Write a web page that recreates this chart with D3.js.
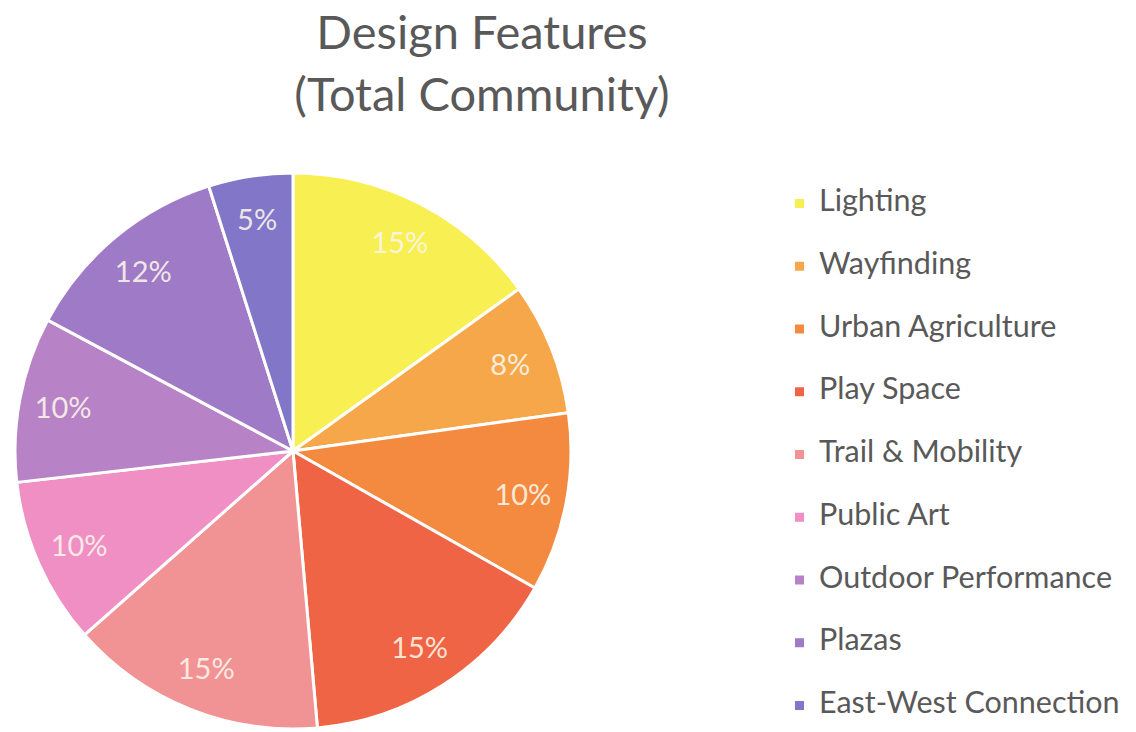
<!DOCTYPE html>
<html>
<head>
<meta charset="utf-8">
<script src="https://cdn.jsdelivr.net/npm/d3@7"></script>
<style>
  html, body { margin: 0; padding: 0; background: #ffffff; }
  svg { display: block; }
</style>
</head>
<body>
<svg id="chart" width="1136" height="732"></svg>
<script>
// Share of design features requested across the total community (percent)
const categories = [
  "Lighting", "Wayfinding", "Urban Agriculture", "Play Space",
  "Trail & Mobility", "Public Art", "Outdoor Performance", "Plazas",
  "East-West Connection"
];
const shares = [15.1, 7.7, 10.4, 15.4, 14.9, 9.7, 9.6, 12.3, 4.9];
const colors = [
  "#f8ef52", "#f6a74a", "#f38a3f", "#ef6445",
  "#f19295", "#ef8fc3", "#b783c6", "#9f7ac6", "#8176c8"
];
const titleLines = ["Design Features", "(Total Community)"];

const svg = d3.select("#chart");
const cx = 293, cy = 451, radius = 278;
const labelRadius = 234;
const font = "Lato, 'Open Sans', sans-serif";

// Title
svg.append("g")
  .selectAll("text")
  .data(titleLines)
  .join("text")
  .attr("x", 482)
  .attr("y", (d, i) => 49 + i * 62)
  .attr("text-anchor", "middle")
  .attr("font-family", font)
  .attr("font-size", 47)
  .attr("fill", "#595959")
  .text(d => d);

// Pie
const rows = categories.map((c, i) => ({ name: c, value: shares[i], color: colors[i] }));
const pie = d3.pie().sort(null).value(d => d.value);
const arcs = pie(rows);
const arc = d3.arc().innerRadius(0).outerRadius(radius);
const labelArc = d3.arc().innerRadius(labelRadius).outerRadius(labelRadius);

const g = svg.append("g").attr("transform", `translate(${cx},${cy})`);

g.selectAll("path")
  .data(arcs)
  .join("path")
  .attr("d", arc)
  .attr("fill", d => d.data.color)
  .attr("stroke", "#ffffff")
  .attr("stroke-width", 3)
  .attr("stroke-linejoin", "round");

g.selectAll("text.pct")
  .data(arcs)
  .join("text")
  .attr("class", "pct")
  .attr("transform", d => `translate(${labelArc.centroid(d)})`)
  .attr("text-anchor", "middle")
  .attr("dy", "0.36em")
  .attr("font-family", font)
  .attr("font-size", 29)
  .attr("fill", "#fbf6ea")
  .attr("fill-opacity", 0.9)
  .text(d => Math.round(d.data.value) + "%");

// Legend
const legend = svg.append("g").attr("transform", "translate(795,0)");
const item = legend.selectAll("g")
  .data(rows)
  .join("g")
  .attr("transform", (d, i) => `translate(0,${211 + i * 62.75})`);

item.append("rect")
  .attr("x", 0)
  .attr("y", -12)
  .attr("width", 9)
  .attr("height", 9)
  .attr("fill", d => d.color);

item.append("text")
  .attr("x", 24)
  .attr("y", 0)
  .attr("font-family", font)
  .attr("font-size", 30.5)
  .attr("fill", "#595959")
  .text(d => d.name);
</script>
</body>
</html>
